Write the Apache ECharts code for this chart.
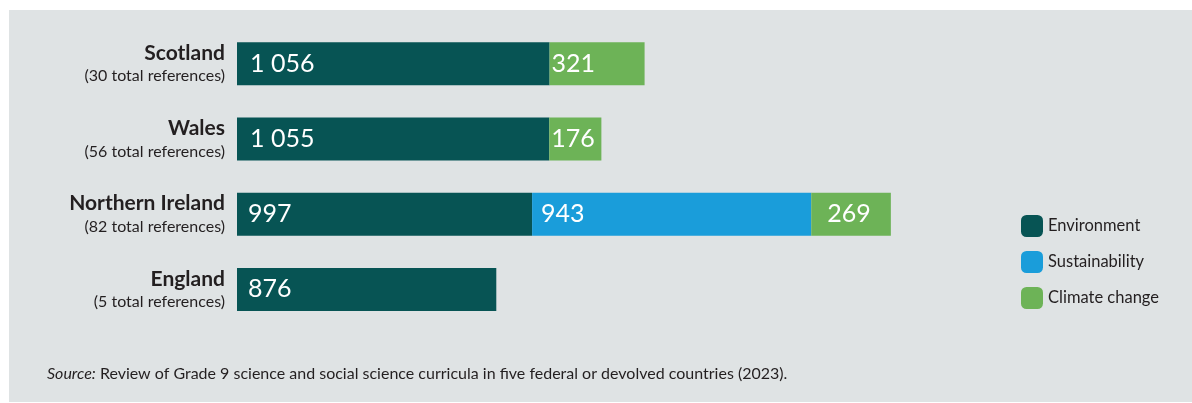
<!DOCTYPE html>
<html><head><meta charset="utf-8">
<script src="https://cdn.jsdelivr.net/npm/echarts@6/dist/echarts.min.js"></script>
<style>html,body{margin:0;padding:0;background:#fff}#c{width:1192px;height:403px}</style>
</head><body><div id="c"></div>
<script>
const countries = ['Scotland', 'Wales', 'Northern Ireland', 'England'];
const totalRefs = ['30', '56', '82', '5'];
const seriesNames = ['Environment', 'Sustainability', 'Climate change'];
const environment = [1056, 1055, 997, 876];
const sustainability = [null, null, 943, null];
const climateChange = [321, 176, 269, null];
const colors = ['#075454', '#1a9dda', '#6db357'];
const sourceText = 'Review of Grade 9 science and social science curricula in five federal or devolved countries (2023).';

const FONT = 'Lato';
function fmt(v){ return String(v).replace(/\B(?=(\d{3})+(?!\d))/g, ' '); }

const padEnv = [13, 13, 11, 11];
const padSus = [9, 9, 9, 9];
const padCli = [2, 2, 16, 2];

function mkData(vals, pads){
  return vals.map((v,i)=> v==null ? null : {value:v, label:{distance: pads[i]}});
}
const catsRev = countries.slice().reverse();
function rev(a){ return a.slice().reverse(); }

const seriesData = [mkData(environment,padEnv), mkData(sustainability,padSus), mkData(climateChange,padCli)];

const chart = echarts.init(document.getElementById('c'), null, {renderer:'canvas'});
chart.setOption({
  backgroundColor: '#ffffff',
  animation: false,
  graphic: [
    {type:'rect', left:9, top:10, shape:{width:1183, height:392}, style:{fill:'#dfe3e4'}, z:-10},
    {type:'text', left:47, top:366, style:{
      text:'{i|Source:} ' + sourceText,
      rich:{i:{fontStyle:'italic', fontFamily:FONT, fontSize:16, fill:'#231f20'}},
      fontFamily:FONT, fontSize:16, fill:'#231f20'}}
  ],
  grid: {left:237, right:67, top:26, bottom:76, containLabel:false},
  xAxis: {type:'value', min:0, max:3000, show:false},
  yAxis: {
    type:'category', data: catsRev, inverse:false,
    axisLine:{show:false}, axisTick:{show:false}, splitLine:{show:false},
    axisLabel:{
      margin:12, align:'right',
      formatter: function(v){ const i = countries.indexOf(v); return '{b|'+v+'}\n{s|('+totalRefs[i]+' total references)}'; },
      rich:{
        b:{fontFamily:FONT, fontWeight:'bold', fontSize:21, color:'#231f20', lineHeight:25, align:'right'},
        s:{fontFamily:FONT, fontSize:16, color:'#231f20', lineHeight:21, align:'right'}
      }
    }
  },
  legend: {
    orient:'vertical', left:1021, top:215, padding:0, itemWidth:22, itemHeight:22, itemGap:14,
    icon:'roundRect', data: seriesNames,
    textStyle:{fontFamily:FONT, fontSize:16.5, color:'#231f20'}
  },
  series: seriesNames.map((n,k)=>({
    name:n, type:'bar', stack:'total', barWidth:43,
    itemStyle:{color:colors[k]},
    label:{show:true, position:'insideLeft', color:'#ffffff', fontFamily:FONT, fontSize:25,
      formatter: p => fmt(p.value)},
    data: rev(seriesData[k])
  }))
});
</script></body></html>
